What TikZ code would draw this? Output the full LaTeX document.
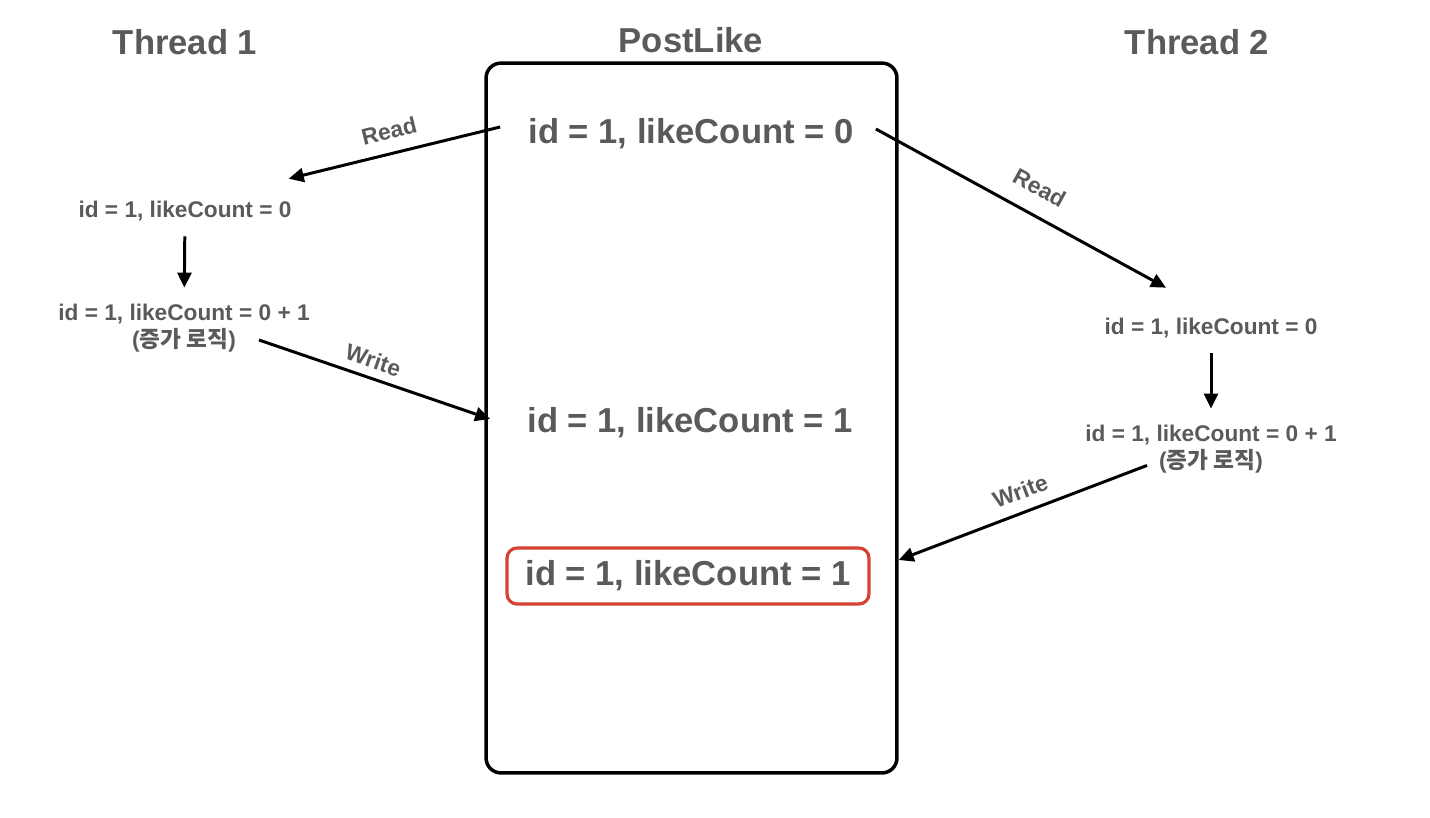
\documentclass[tikz,border=0pt]{standalone}
\usepackage{fontspec}
\setmainfont{Liberation Sans}
\newfontfamily\kr{Noto Sans CJK KR}
\usetikzlibrary{arrows.meta,positioning,calc}
\definecolor{txtgray}{HTML}{5A5A5A}
\definecolor{hilite}{HTML}{D8412F}

\begin{document}
\begin{tikzpicture}[x=0.02cm, y=-0.02cm,
  >={Triangle[length=3mm, width=2.8mm]}, line width=1.7pt,
  head/.style={font=\fontsize{19.7}{23}\selectfont\bfseries, text=txtgray},
  big/.style={font=\fontsize{19.7}{23}\selectfont\bfseries, text=txtgray},
  small/.style={font=\fontsize{12.9}{15.4}\selectfont\bfseries, text=txtgray,
    align=center},
  lbl/.style={font=\fontsize{13}{15}\selectfont\bfseries, text=txtgray,
    sloped},
  frame/.style={draw, line width=2pt, rounded corners=0.3cm,
    minimum width=8.22cm, minimum height=14.2cm},
  hibox/.style={draw=hilite, line width=1.8pt, rounded corners=0.2cm,
    minimum width=7.24cm, minimum height=1.12cm},
  downstep/.style={->, shorten <=0.16cm, shorten >=0.18cm}]
\useasboundingbox (0,0) rectangle (1430,818);
\node[head] (th1) at (185,42) {Thread 1};
\node[head] (pl) at (691,40) {PostLike};
\node[head] (th2) at (1197,42) {Thread 2};
\node[frame] (post) at (691.5,418) {};
% rows inside PostLike
\node[big] (v0) at (691,134) {id = 1, likeCount = 0};
\node[big] (v1) at (690,423) {id = 1, likeCount = 1};
\node[big, hibox] (v2) at (688,576) {id = 1, likeCount = 1};
% thread 1
\node[small] (a0) at (185,211) {id = 1, likeCount = 0};
\node[small] (a1) at (184,328) {id = 1, likeCount = 0 + 1\\({\kr 증가 로직})};
% thread 2
\node[small] (b0) at (1211,328) {id = 1, likeCount = 0};
\node[small] (b1) at (1211,449) {id = 1, likeCount = 0 + 1\\({\kr 증가 로직})};
\draw[->] ($(v0.west)+(-21,-7)$) -- node[lbl, above=0.14cm, pos=0.5] {Read}
  ($(a0.north east)+(-10,-15)$);
\draw[->] ($(v0.east)+(15,-5)$) -- node[lbl, above=0.22cm, pos=0.52] {Read}
  ($(b0.north)+(-45,-23)$);
\draw[->] ($(a1.east)+(-58,12)$) -- node[lbl, above=0.04cm, pos=0.47] {Write}
  ($(v1.west)+(-30,-4)$);
\draw[->] ($(b1.south)+(-64,-15)$) -- node[lbl, above=0.11cm, pos=0.48] {Write}
  ($(post.east)+(0,142)$);
\draw[downstep] (a0) -- (a1);
\draw[downstep] (b0) -- (b1);
\end{tikzpicture}
\end{document}
